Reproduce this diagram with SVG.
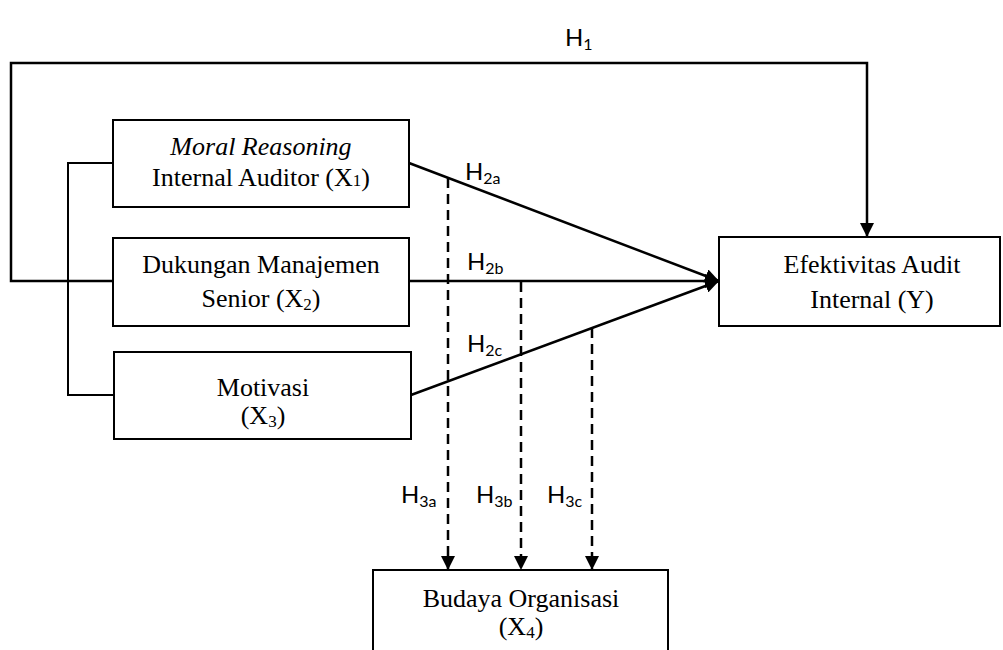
<svg xmlns="http://www.w3.org/2000/svg" width="1003" height="650" viewBox="0 0 1003 650">
<style>
.box{fill:#fff;stroke:#000;stroke-width:2}
.t{font-family:"Liberation Serif","Times New Roman",serif;font-size:26px;fill:#000;text-anchor:middle}
.h{font-family:Lato,"Liberation Sans",sans-serif;font-size:24px;fill:#000}
.sub{font-size:16px}
.ln{fill:none;stroke:#000;stroke-width:2.5}
.br{fill:none;stroke:#000;stroke-width:2}
.dash{fill:none;stroke:#000;stroke-width:2.5;stroke-dasharray:10,6}
</style>
<defs>
<marker id="arr" viewBox="0 0 10 10" refX="10" refY="5" markerWidth="14" markerHeight="14" markerUnits="userSpaceOnUse" orient="auto">
<path d="M0,0 L10,5 L0,10 z" fill="#000"/>
</marker>
</defs>
<rect width="1003" height="650" fill="#fff"/>
<g id="connectors">
<path class="ln" d="M113,281 L11,281 L11,63 L867,63 L867,237" marker-end="url(#arr)"/>
<path class="br" d="M113,163 L68,163 L68,395 L114,395"/>
<path class="ln" d="M409,163 L719,281" marker-end="url(#arr)"/>
<path class="ln" d="M409,281 L719,281" marker-end="url(#arr)"/>
<path class="ln" d="M411,395 L719,281" marker-end="url(#arr)"/>
<path class="dash" d="M448,178 L448,570" marker-end="url(#arr)"/>
<path class="dash" d="M521,282 L521,570" marker-end="url(#arr)"/>
<path class="dash" d="M592,328 L592,570" marker-end="url(#arr)"/>
</g>
<g id="labels">
<text class="h" x="565" y="46">H<tspan class="sub" dy="4">1</tspan></text>
<text class="h" x="465" y="180">H<tspan class="sub" dy="4">2a</tspan></text>
<text class="h" x="467" y="270">H<tspan class="sub" dy="4">2b</tspan></text>
<text class="h" x="467" y="352">H<tspan class="sub" dy="4">2c</tspan></text>
<text class="h" x="401" y="503">H<tspan class="sub" dy="4">3a</tspan></text>
<text class="h" x="476" y="503">H<tspan class="sub" dy="4">3b</tspan></text>
<text class="h" x="547" y="503">H<tspan class="sub" dy="4">3c</tspan></text>
</g>
<g id="node-x1">
<rect class="box" x="113" y="120" width="296" height="87"/>
<text class="t" x="261" y="155" font-style="italic">Moral Reasoning</text>
<text class="t" x="261" y="186">Internal Auditor (X<tspan font-size="17">1</tspan>)</text>
</g>
<g id="node-x2">
<rect class="box" x="113" y="238" width="296" height="88"/>
<text class="t" x="261" y="273">Dukungan Manajemen</text>
<text class="t" x="261" y="307">Senior (X<tspan font-size="17" dy="3">2</tspan><tspan dy="-3">)</tspan></text>
</g>
<g id="node-x3">
<rect class="box" x="114" y="352" width="297" height="87"/>
<text class="t" x="263" y="396">Motivasi</text>
<text class="t" x="263" y="424">(X<tspan font-size="17" dy="3">3</tspan><tspan dy="-3">)</tspan></text>
</g>
<g id="node-y">
<rect class="box" x="719" y="237" width="281" height="89"/>
<text class="t" x="872" y="273">Efektivitas Audit</text>
<text class="t" x="872" y="308">Internal (Y)</text>
</g>
<g id="node-x4">
<rect class="box" x="373" y="570" width="295" height="90"/>
<text class="t" x="521" y="607">Budaya Organisasi</text>
<text class="t" x="521" y="635">(X<tspan font-size="17" dy="3">4</tspan><tspan dy="-3">)</tspan></text>
</g>
</svg>
